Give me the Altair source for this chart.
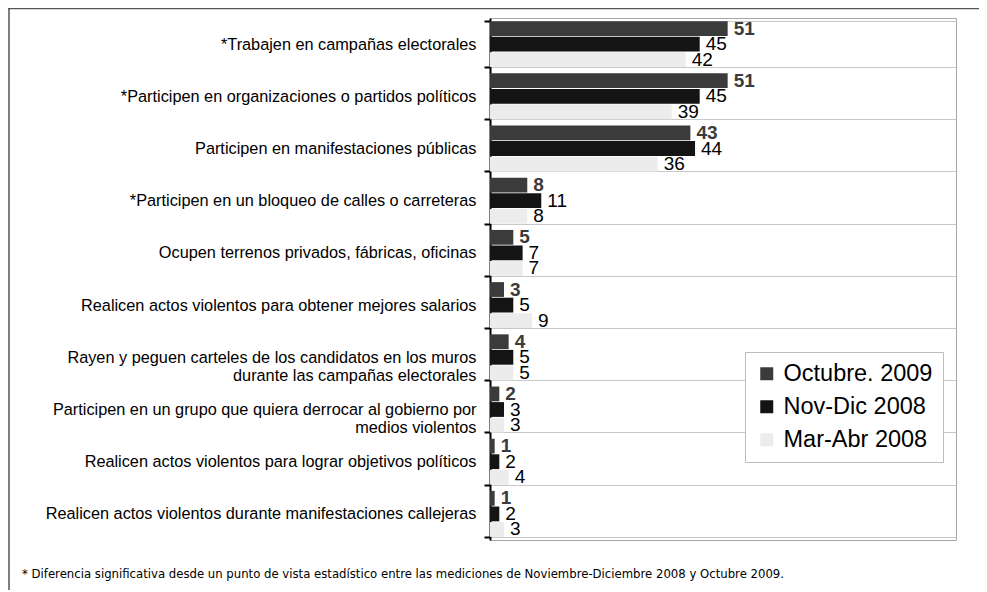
import altair as alt
import pandas as pd

NB = "\u00a0"
categories = [
    "*Trabajen en campañas electorales",
    "*Participen en organizaciones o partidos políticos",
    "Participen en manifestaciones públicas",
    "*Participen en un bloqueo de calles o carreteras",
    "Ocupen terrenos privados, fábricas, oficinas",
    "Realicen actos violentos para obtener mejores salarios",
    "Rayen y peguen carteles de los candidatos en los muros|durante las campañas electorales" + NB * 21,
    "Participen en un grupo que quiera derrocar al gobierno por|medios violentos" + NB * 21,
    "Realicen actos violentos para lograr objetivos políticos",
    "Realicen actos violentos durante manifestaciones callejeras",
]
series = ["Octubre. 2009", "Nov-Dic 2008", "Mar-Abr 2008"]
oct2009 = [51, 51, 43, 8, 5, 3, 4, 2, 1, 1]
novdic2008 = [45, 45, 44, 11, 7, 5, 5, 3, 2, 2]
marabr2008 = [42, 39, 36, 8, 7, 9, 5, 3, 4, 3]
colors = ["#3b3b3b", "#141414", "#ececec"]
footnote = ("* Diferencia significativa desde un punto de vista estadístico entre las mediciones "
            "de Noviembre-Diciembre 2008 y Octubre 2009.")

rows = []
for s, vals in zip(series, [oct2009, novdic2008, marabr2008]):
    for c, v in zip(categories, vals):
        rows.append({"cat": c, "serie": s, "value": v})
df = pd.DataFrame(rows)

y_enc = alt.Y(
    "cat:N", sort=categories,
    scale=alt.Scale(paddingInner=0.12, paddingOuter=0.06),
    axis=alt.Axis(
        title=None, tickBand="extent", grid=True, gridColor="#c8c8c8", gridWidth=1,
        labelExpr="split(datum.label, '|')", labelFont="Liberation Sans", labelFontSize=16.3,
        labelColor="black", labelPadding=8, labelLineHeight=18, labelLimit=0,
        tickColor="black", tickSize=6, tickWidth=2, domainColor="black", domainWidth=2,
    ),
)
yoff = alt.YOffset("serie:N", sort=series, scale=alt.Scale(paddingInner=0.05))
x_enc = alt.X("value:Q", scale=alt.Scale(domain=[0, 100]), axis=None)

base = alt.Chart(df)

bars = base.mark_bar().encode(
    y=y_enc, yOffset=yoff, x=x_enc,
    color=alt.Color(
        "serie:N", sort=series,
        scale=alt.Scale(domain=series, range=colors),
        legend=alt.Legend(
            title=None, orient="none", legendX=255, legendY=334,
            symbolType="square", symbolSize=169, symbolStrokeWidth=0,
            labelFont="Liberation Sans", labelFontSize=23.5, labelColor="black",
            labelOffset=5, strokeColor="#bdbdbd", fillColor="white",
            padding=10, rowPadding=8,
        ),
    ),
)

lab_oct = base.transform_filter(alt.datum.serie == series[0]).mark_text(
    align="left", baseline="middle", dx=6, font="Liberation Sans", fontSize=19,
    fontWeight="bold", color="#3b3b3b",
).encode(y=y_enc, yOffset=yoff, x=x_enc, text="value:Q")

lab_other = base.transform_filter(alt.datum.serie != series[0]).mark_text(
    align="left", baseline="middle", dx=6, font="Liberation Sans", fontSize=19,
    color="black",
).encode(y=y_enc, yOffset=yoff, x=x_enc, text="value:Q")

note = alt.Chart(pd.DataFrame({"t": [footnote]})).mark_text(
    align="left", baseline="middle", font="DejaVu Sans", fontSize=11.7, color="black",
).encode(x=alt.value(-468), y=alt.value(556), text="t:N")

frame_df = pd.DataFrame({"a": [0]})
top_line = alt.Chart(frame_df).mark_rule(color="#555555", strokeWidth=1.5).encode(
    x=alt.value(-482), x2=alt.value(489), y=alt.value(-9.5))
left_line = alt.Chart(frame_df).mark_rule(color="#555555", strokeWidth=1.5).encode(
    x=alt.value(-481), y=alt.value(-10), y2=alt.value(572))

chart = alt.layer(bars, lab_oct, lab_other, note, top_line, left_line).properties(
    width=466, height=522,
    autosize=alt.AutoSizeParams(type="none"),
    padding={"left": 482, "top": 10, "right": 23, "bottom": 50},
).configure_view(stroke="#a6a6a6", strokeWidth=1)

chart.save("out.html", embed_options={"renderer": "svg", "actions": False})
